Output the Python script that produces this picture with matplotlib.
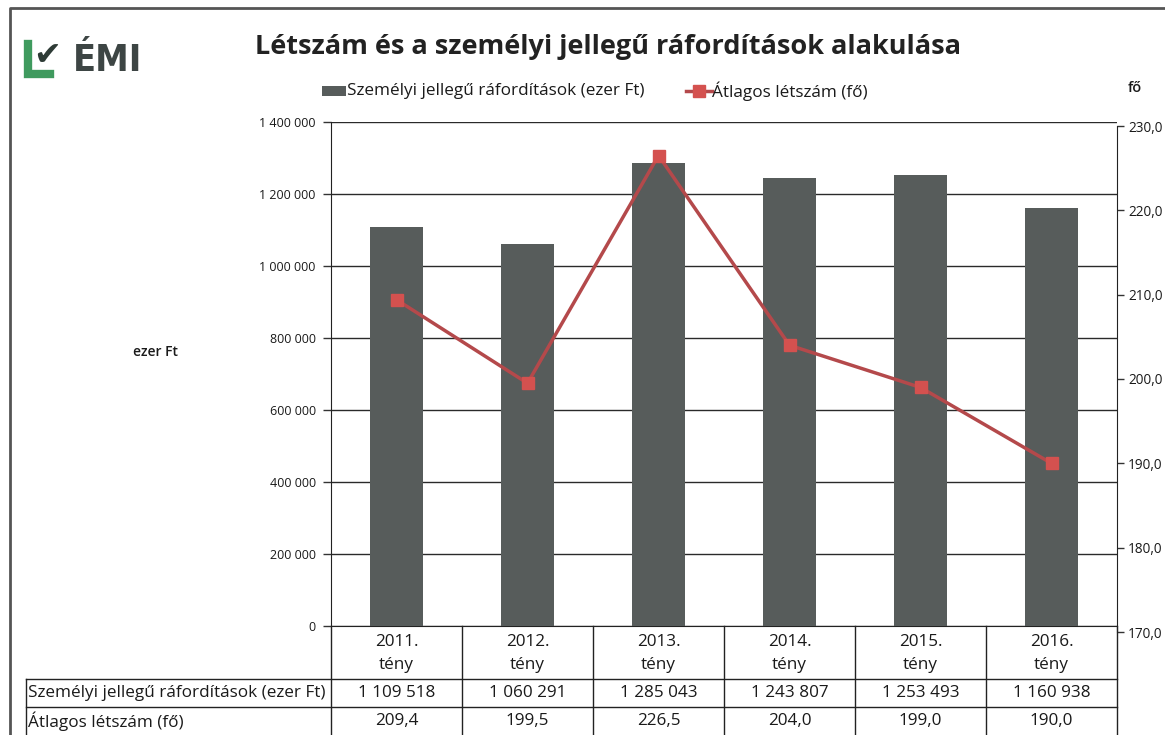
import matplotlib
matplotlib.use("Agg")
import matplotlib.pyplot as plt
import matplotlib.transforms as mtrans
from matplotlib.lines import Line2D
from matplotlib.patches import Rectangle

plt.rcParams['font.family'] = ['Open Sans', 'DejaVu Sans']

### DATA
categories = ['2011.\ntény', '2012.\ntény', '2013.\ntény', '2014.\ntény', '2015.\ntény', '2016.\ntény']
costs = [1109518, 1060291, 1285043, 1243807, 1253493, 1160938]
headcount = [209.4, 199.5, 226.5, 204.0, 199.0, 190.0]
cost_name = 'Személyi jellegű ráfordítások (ezer Ft)'
head_name = 'Átlagos létszám (fő)'
title = 'Létszám és a személyi jellegű ráfordítások alakulása'

W, H = 1165, 735
BAR_C = '#575c5b'
LINE_C = '#b4494b'
MARK_C = '#d4514f'
TXT = '#1a1a1a'
FS = 12.3  # table / legend text size


def fx(p):
    return p / W


def fy(p):
    return 1 - p / H


fig = plt.figure(figsize=(W / 100, H / 100), dpi=100)

# main axes (bars)
ax = fig.add_axes([fx(331), fy(626), fx(786), 504 / H])
x = list(range(len(categories)))
ax.bar(x, costs, width=0.4, color=BAR_C, zorder=3)
ax.set_xlim(-0.5, len(categories) - 0.5)
ax.set_ylim(0, 1400000)
ax.set_yticks(range(0, 1400001, 200000))
ax.set_yticklabels(['{:,}'.format(v).replace(',', ' ') for v in range(0, 1400001, 200000)],
                   fontsize=9, color=TXT)
ax.yaxis.grid(True, color='#2a2a2a', linewidth=1.0, zorder=0)
ax.set_xticks([])
ax.tick_params(axis='y', length=6, width=1, color='#333333', pad=5)
for s in ['top', 'right']:
    ax.spines[s].set_visible(False)
ax.spines['left'].set_color('#222222')
ax.spines['bottom'].set_color('#222222')

# secondary axis (headcount) - slightly offset like in the scan
ax2 = fig.add_axes([fx(331), fy(632), fx(786), 506 / H])
ax2.patch.set_visible(False)
ax2.plot(x, headcount, color=LINE_C, linewidth=2.5, marker='s', markersize=8,
         markerfacecolor=MARK_C, markeredgecolor=MARK_C, zorder=5)
ax2.set_xlim(-0.5, len(categories) - 0.5)
ax2.set_ylim(170, 230)
ax2.set_yticks(range(170, 231, 10))
ax2.set_yticklabels(['{:.1f}'.format(v).replace('.', ',') for v in range(170, 231, 10)],
                    fontsize=9.8, color=TXT)
ax2.yaxis.tick_right()
ax2.set_xticks([])
ax2.tick_params(axis='y', length=5, width=1, color='#333333', pad=3)
for s in ['top', 'left', 'bottom']:
    ax2.spines[s].set_visible(False)
ax2.spines['right'].set_color('#222222')

# axis captions
fig.text(fx(155), fy(352), 'ezer Ft', fontsize=10, fontweight='semibold', color=TXT,
         ha='center', va='center')
fig.text(fx(1135), fy(88), 'fő', fontsize=10.5, fontweight='semibold', color=TXT,
         ha='center', va='center')

# title
fig.text(fx(608), fy(47), title, fontsize=19.5, fontweight='bold', color='#222222',
         ha='center', va='center')

# legend
fig.patches.append(Rectangle((fx(322), fy(96)), fx(24), 10 / H, transform=fig.transFigure,
                             facecolor=BAR_C, edgecolor='none'))
fig.text(fx(347), fy(91), cost_name, fontsize=FS, color=TXT, va='center')
fig.lines.append(Line2D([fx(686), fx(712)], [fy(91), fy(91)], transform=fig.transFigure,
                        color=LINE_C, linewidth=2.5))
fig.lines.append(Line2D([fx(699)], [fy(91)], transform=fig.transFigure, marker='s',
                        markersize=8, color=MARK_C, linestyle='None'))
fig.text(fx(712), fy(91), head_name, fontsize=FS, color=TXT, va='center')

# data table under the axes
tr = mtrans.blended_transform_factory(ax.transData, fig.transFigure)
top, r1, r2, bot = fy(626), fy(679), fy(707), fy(740)
lc = '#222222'
for b in [i - 0.5 for i in range(len(categories) + 1)]:
    ax.add_line(Line2D([b, b], [top, bot], transform=tr, color=lc, linewidth=1, clip_on=False))
for yy in [r1, r2]:
    fig.lines.append(Line2D([fx(26), fx(1117)], [yy, yy], transform=fig.transFigure,
                            color=lc, linewidth=1))
fig.lines.append(Line2D([fx(26), fx(26)], [r1, bot], transform=fig.transFigure,
                        color=lc, linewidth=1))
for i, cat in enumerate(categories):
    yr, t = cat.split('\n')
    ax.text(i, fy(642), yr, transform=tr, ha='center', va='center', fontsize=FS, color=TXT)
    ax.text(i, fy(665), t, transform=tr, ha='center', va='center', fontsize=FS, color=TXT)
    ax.text(i, fy(693), '{:,}'.format(costs[i]).replace(',', ' '), transform=tr,
            ha='center', va='center', fontsize=FS, color=TXT)
    ax.text(i, fy(721), '{:.1f}'.format(headcount[i]).replace('.', ','), transform=tr,
            ha='center', va='center', fontsize=FS, color=TXT)
fig.text(fx(28), fy(693), cost_name, fontsize=FS, color=TXT, va='center')
fig.text(fx(28), fy(721), head_name, fontsize=FS, color=TXT, va='center')

# logo
fig.lines.append(Line2D([fx(28), fx(28), fx(50)], [fy(44), fy(74), fy(74)],
                        transform=fig.transFigure, color='#3f9a5e', linewidth=6,
                        solid_joinstyle='miter'))
fig.text(fx(33), fy(56), '✔', fontsize=24, color='#2e3b36',
         va='center', family='DejaVu Sans')
fig.text(fx(73), fy(61), 'ÉMI', fontsize=27, fontweight='bold', color='#3d4544',
         va='center', family='DejaVu Sans', stretch='condensed')

# scan frame
fig.lines.append(Line2D([fx(10), fx(10), fx(1165)], [0, fy(8), fy(8)],
                        transform=fig.transFigure, color='#555555', linewidth=2))

fig.savefig('out.png', dpi=100)
